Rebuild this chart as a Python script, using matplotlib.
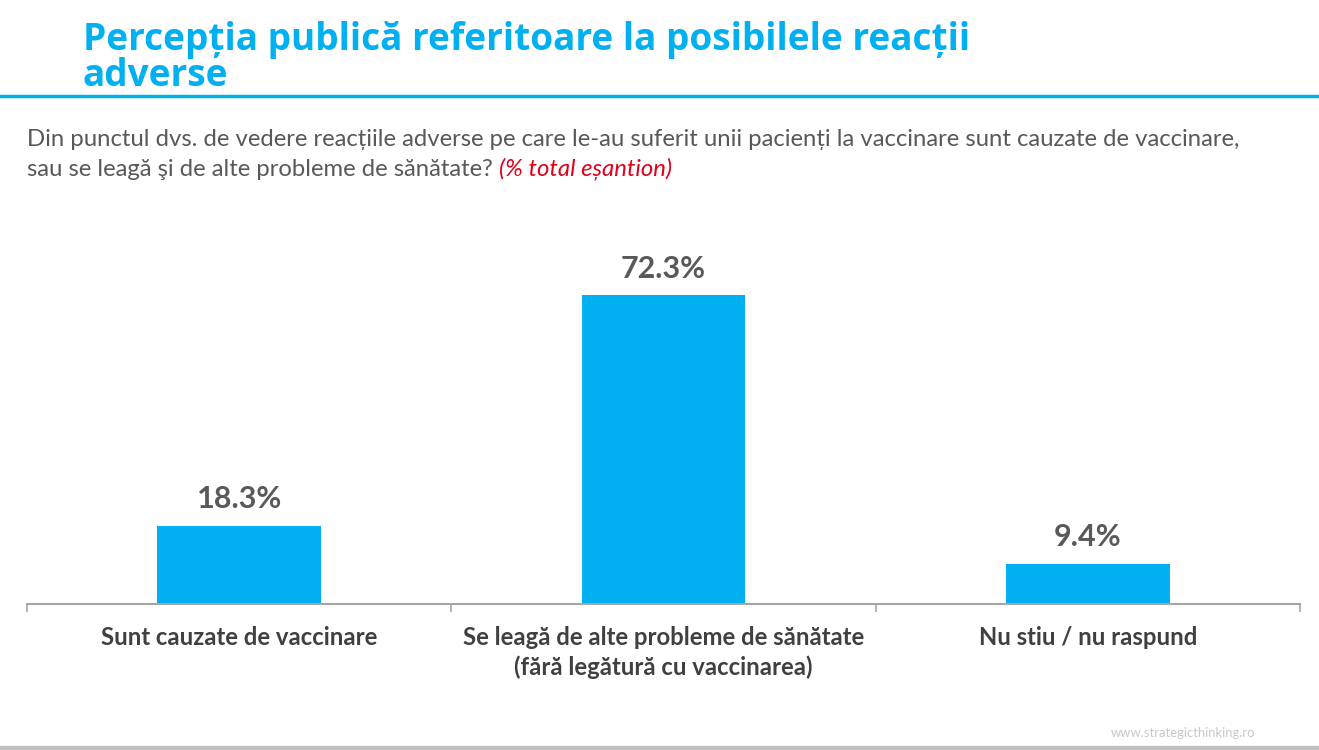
import matplotlib.pyplot as plt
import matplotlib.lines as mlines

categories = ["Sunt cauzate de vaccinare",
              "Se leagă de alte probleme de sănătate\n(fără legătură cu vaccinarea)",
              "Nu stiu / nu raspund"]
values = [18.3, 72.3, 9.4]
labels = ["18.3%", "72.3%", "9.4%"]

BLUE = "#00B0F0"
GRAY = "#595959"

plt.rcParams['font.family'] = ['Lato', 'DejaVu Sans']

fig = plt.figure(figsize=(13.19, 7.5), dpi=100)

# title (fit line 1 to the reference width)
t1 = fig.text(83 / 1319, 1 - 50 / 750, "Percepția publică referitoare la posibilele reacții",
              color=BLUE, fontsize=24, fontweight="bold", va="baseline",
              family=["Open Sans", "DejaVu Sans"])
fig.canvas.draw()
w = t1.get_window_extent().width
fs = 24 * 889 / w
t1.set_fontsize(fs)
fig.text(83 / 1319, 1 - 86 / 750, "adverse",
         color=BLUE, fontsize=fs, fontweight="bold", va="baseline",
         family=["Open Sans", "DejaVu Sans"])
fig.add_artist(mlines.Line2D([0, 1], [1 - 96 / 750, 1 - 96 / 750], color=BLUE, lw=2.5))

# question
fig.text(27 / 1319, 1 - 146 / 750,
         "Din punctul dvs. de vedere reacțiile adverse pe care le-au suferit unii pacienți la vaccinare sunt cauzate de vaccinare,",
         color=GRAY, fontsize=17.2, va="baseline")
t = fig.text(27 / 1319, 1 - 176 / 750, "sau se leagă şi de alte probleme de sănătate? ",
             color=GRAY, fontsize=17.2, va="baseline")
fig.canvas.draw()
bb = t.get_window_extent()
fig.text(bb.x1 / 1319, 1 - 176 / 750, "(% total eșantion)", color="#E0001B",
         fontsize=17.2, style="italic", va="baseline")

# chart
ax = fig.add_axes([27 / 1319, 1 - 604 / 750, 1273 / 1319, 374 / 750])
x = range(len(values))
ax.bar(x, values, width=0.385, color=BLUE)
for i, v in enumerate(values):
    ax.text(i, v + 2.9, labels[i], ha="center", va="bottom", fontsize=22,
            fontweight="bold", color=GRAY)

ax.set_xlim(-0.5, 2.5)
ax.set_ylim(0, 374 / 4.27)
for s in ["top", "right", "left"]:
    ax.spines[s].set_visible(False)
ax.spines["bottom"].set_color("#A6A6A6")
ax.spines["bottom"].set_linewidth(1.5)
ax.set_yticks([])
ax.set_xticks([-0.5, 0.5, 1.5, 2.5])
ax.set_xticklabels([])
ax.tick_params(axis="x", length=6, width=1.2, color="#A6A6A6")
for i, c in enumerate(categories):
    ax.text(i, -5.2, c, ha="center", va="top", fontsize=17.2, fontweight="bold",
            color="#404040", linespacing=1.3)

fig.text(1255 / 1319, 1 - 737 / 750, "www.strategicthinking.ro", color="#C8C8C8",
         fontsize=9.4, ha="right", va="baseline")
fig.add_artist(mlines.Line2D([0, 1], [1 - 748 / 750, 1 - 748 / 750], color="#C0C0C0", lw=3))

fig.savefig("out.png", dpi=100)
